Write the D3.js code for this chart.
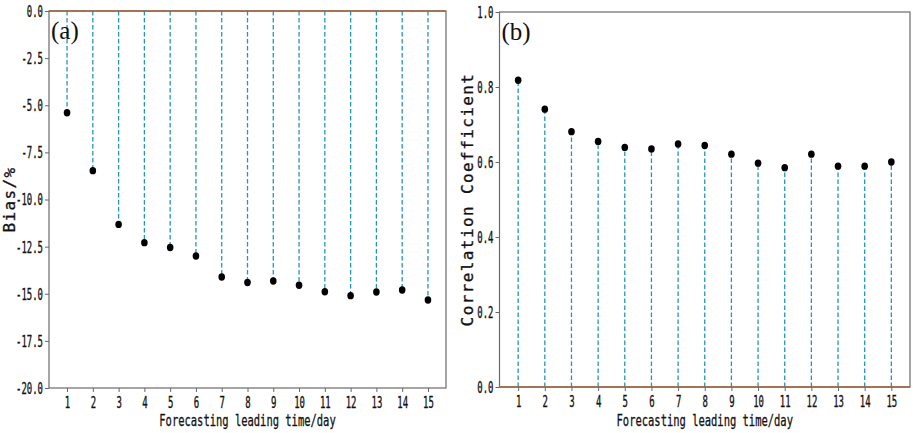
<!DOCTYPE html>
<meta charset="utf-8" />
<title>Bias and correlation by leading time</title>
<style>
  body { margin: 0; background: #fff; }
  .tick text { font-family: "DejaVu Sans Mono", monospace; font-size: 15px; fill: #111; stroke: #111; stroke-width: 0.35px; }
  .axis-label { font-family: "DejaVu Sans Mono", monospace; font-size: 16px; fill: #111; stroke: #111; stroke-width: 0.3px; }
  .panel-tag { font-family: "Liberation Serif", serif; font-size: 25px; fill: #111; }
  .stem { stroke: #2196bd; stroke-width: 1.3; stroke-dasharray: 4.5,2.5; }
</style>
<body>
<script src="https://d3js.org/d3.v7.min.js"></script>
<script>
  // data
  var days = [1, 2, 3, 4, 5, 6, 7, 8, 9, 10, 11, 12, 13, 14, 15];
  var biasValues = [-5.4, -8.47, -11.32, -12.29, -12.55, -13.0, -14.11, -14.4, -14.32, -14.55, -14.89, -15.1, -14.91, -14.8, -15.33];
  var corrValues = [0.818, 0.741, 0.681, 0.655, 0.639, 0.635, 0.648, 0.644, 0.621, 0.597, 0.585, 0.621, 0.589, 0.589, 0.6];
  var biasTicks = [0, -2.5, -5, -7.5, -10, -12.5, -15, -17.5, -20];
  var corrTicks = [0, 0.2, 0.4, 0.6, 0.8, 1.0];

  var svg = d3.select("body").append("svg")
    .attr("width", 913)
    .attr("height", 433);

  var charW = 5.4; // narrow label font in the original

  function squeeze(sel, perChar) {
    sel.attr("textLength", function() { return this.textContent.length * perChar; })
      .attr("lengthAdjust", "spacingAndGlyphs");
  }

  function drawPanel(opt) {
    var x = d3.scaleLinear().domain([0.3, 15.7]).range([opt.left, opt.right]);
    var y = d3.scaleLinear().domain(opt.domain).range([opt.bottom, opt.top]);
    var g = svg.append("g");

    // stems
    g.append("g").selectAll("line")
      .data(days)
      .join("line")
      .attr("class", "stem")
      .attr("x1", function(d) { return x(d); })
      .attr("x2", function(d) { return x(d); })
      .attr("y1", y(0))
      .attr("y2", function(d, i) { return y(opt.values[i]); });

    // markers
    g.append("g").selectAll("ellipse")
      .data(days)
      .join("ellipse")
      .attr("cx", function(d) { return x(d); })
      .attr("cy", function(d, i) { return y(opt.values[i]); })
      .attr("rx", 3.3).attr("ry", 3.7)
      .attr("fill", "#000");

    // axes
    var ya = g.append("g")
      .attr("transform", "translate(" + opt.left + ",0)")
      .call(d3.axisLeft(y).tickValues(opt.ticks).tickSize(4).tickPadding(2)
        .tickFormat(function(d) { return d.toFixed(1); }));
    var xa = g.append("g")
      .attr("transform", "translate(0," + opt.bottom + ")")
      .call(d3.axisBottom(x).tickValues(days).tickSize(4).tickPadding(5)
        .tickFormat(function(d) { return d; }));
    [ya, xa].forEach(function(a) {
      a.select(".domain").remove();
      a.selectAll(".tick line").attr("stroke", "#666");
      squeeze(a.selectAll(".tick text"), charW);
    });
    ya.selectAll(".tick text").attr("dy", "0.36em");

    // frame
    g.append("rect")
      .attr("x", opt.left).attr("y", opt.top)
      .attr("width", opt.right - opt.left)
      .attr("height", opt.bottom - opt.top)
      .attr("fill", "none").attr("stroke", "#6a6a6a").attr("stroke-width", 1.2);
    // baseline drawn over the frame edge
    g.append("line")
      .attr("x1", opt.left).attr("x2", opt.right)
      .attr("y1", y(0)).attr("y2", y(0))
      .attr("stroke", "#a5623a").attr("stroke-width", 1.5);

    // x label
    var xl = g.append("text")
      .attr("class", "axis-label")
      .attr("x", (opt.left + opt.right) / 2)
      .attr("y", 426)
      .attr("text-anchor", "middle")
      .text("Forecasting leading time/day");
    squeeze(xl, 6.3);

    // y label
    g.append("text")
      .attr("class", "axis-label")
      .attr("transform", "translate(" + opt.ylabelX + "," + (opt.top + opt.bottom) / 2 + ") rotate(-90)")
      .attr("text-anchor", "middle")
      .attr("font-size", "15px")
      .attr("letter-spacing", "1.4px")
      .text(opt.ylabel);

    // panel tag
    g.append("text")
      .attr("class", "panel-tag")
      .attr("x", opt.left + 2)
      .attr("y", opt.top + 28)
      .text(opt.tag);
  }

  drawPanel({
    left: 49, right: 446, top: 11, bottom: 388,
    domain: [-20, 0], ticks: biasTicks, values: biasValues,
    ylabel: "Bias/%", ylabelX: 15, tag: "(a)"
  });

  drawPanel({
    left: 499.5, right: 910, top: 12, bottom: 387,
    domain: [0, 1], ticks: corrTicks, values: corrValues,
    ylabel: "Correlation Coefficient", ylabelX: 473, tag: "(b)"
  });
</script>
</body>
